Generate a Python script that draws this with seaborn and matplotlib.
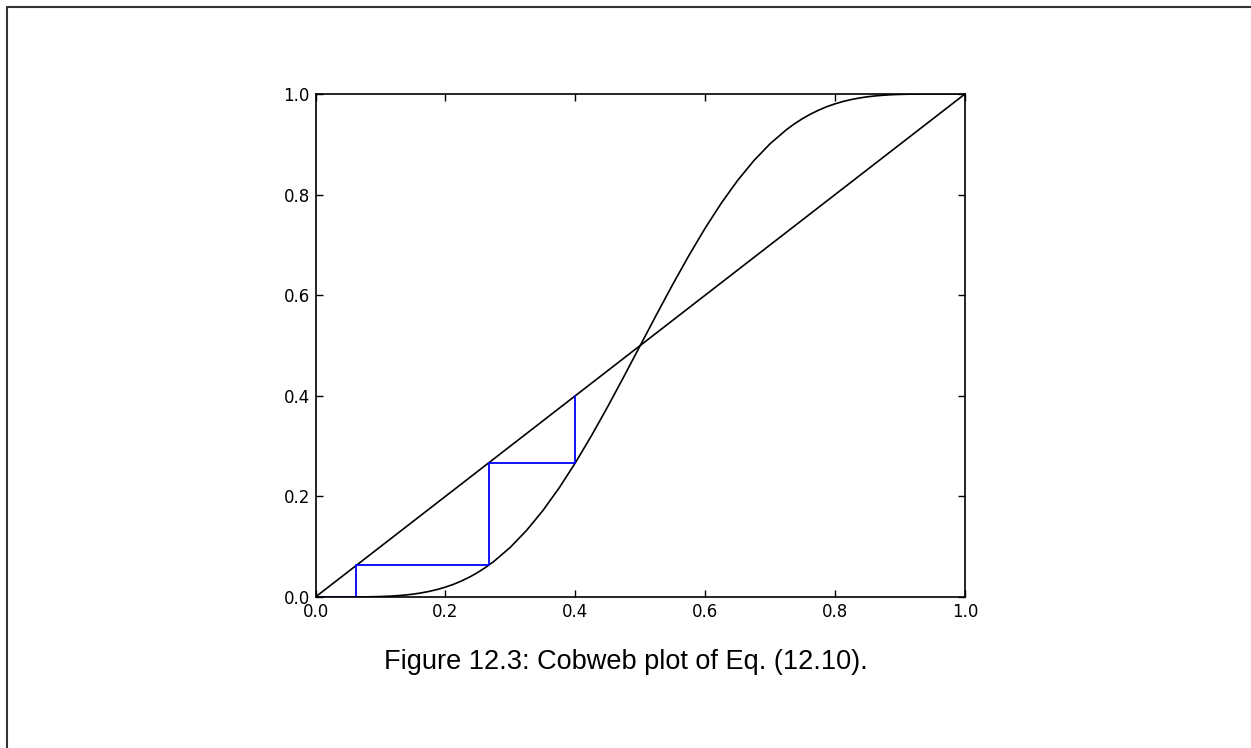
import pandas as pd
import matplotlib.pyplot as plt
import seaborn as sns
from matplotlib.lines import Line2D

# values
x_vals = [0.0, 0.025, 0.05, 0.075, 0.0875, 0.1, 0.1125, 0.125, 0.1375, 0.15,
          0.1625, 0.175, 0.1875, 0.2, 0.2125, 0.225, 0.2375, 0.25, 0.2625, 0.275,
          0.3, 0.325, 0.35, 0.375, 0.4, 0.425, 0.45, 0.475, 0.5,
          0.525, 0.55, 0.575, 0.6, 0.625, 0.65, 0.675, 0.7,
          0.725, 0.7375, 0.75, 0.7625, 0.775, 0.7875, 0.8, 0.8125, 0.825, 0.8375,
          0.85, 0.8625, 0.875, 0.8875, 0.9, 0.9125, 0.925, 0.95, 0.975, 1.0]
curve_vals = [0.0, 0.0, 0.0, 0.0002, 0.0005, 0.0009, 0.0015, 0.0025, 0.0038, 0.0056,
              0.0080, 0.0111, 0.0149, 0.0196, 0.0252, 0.0320, 0.0398, 0.0489, 0.0593, 0.0711,
              0.0988, 0.1324, 0.1717, 0.2166, 0.2666, 0.3209, 0.3786, 0.4387, 0.5,
              0.5613, 0.6214, 0.6791, 0.7334, 0.7834, 0.8283, 0.8676, 0.9012,
              0.9289, 0.9407, 0.9511, 0.9602, 0.9680, 0.9748, 0.9804, 0.9851, 0.9889, 0.9920,
              0.9944, 0.9962, 0.9975, 0.9985, 0.9991, 0.9995, 0.9998, 1.0, 1.0, 1.0]
diag_x = [0.0, 1.0]
diag_y = [0.0, 1.0]
cobweb_x = [0.4, 0.4, 0.2666, 0.2666, 0.0630, 0.0630, 0.0001, 0.0001, 0.0]
cobweb_y = [0.4, 0.2666, 0.2666, 0.0630, 0.0630, 0.0001, 0.0001, 0.0, 0.0]
x_ticks = [0.0, 0.2, 0.4, 0.6, 0.8, 1.0]
caption = "Figure 12.3: Cobweb plot of Eq. (12.10)."

sns.set_style("ticks")
plt.rcParams["font.family"] = ["DejaVu Sans"]

curve = pd.DataFrame({"x": x_vals, "y": curve_vals})
diag = pd.DataFrame({"x": diag_x, "y": diag_y})
cobweb = pd.DataFrame({"x": cobweb_x, "y": cobweb_y})

fig = plt.figure(figsize=(12.51, 7.48), dpi=100)
ax = fig.add_axes([0.2522, 0.2019, 0.5192, 0.6725])

line_kw = dict(x="x", y="y", sort=False, estimator=None, ax=ax)
sns.lineplot(data=curve, color="black", lw=1.2, **line_kw)
sns.lineplot(data=diag, color="black", lw=1.2, **line_kw)
sns.lineplot(data=cobweb, color="#0000ff", lw=1.3, **line_kw)

ax.set_xlim(0, 1)
ax.set_ylim(0, 1)
ax.set_xticks(x_ticks)
ax.set_yticks(x_ticks)
ax.set_xticklabels([f"{t:.1f}" for t in x_ticks])
ax.set_yticklabels([f"{t:.1f}" for t in x_ticks])
ax.set_xlabel("")
ax.set_ylabel("")
ax.tick_params(direction="in", length=5, width=1, labelsize=12, pad=4,
               top=True, right=True, colors="black")
for lab in ax.get_xticklabels() + ax.get_yticklabels():
    lab.set_family("DejaVu Sans")
for side in ax.spines.values():
    side.set_visible(True)
    side.set_linewidth(1.2)
    side.set_color("black")

# page frame (top and left edges)
fig.add_artist(Line2D([6.5 / 1251, 1.0], [1 - 6.5 / 748, 1 - 6.5 / 748],
                      transform=fig.transFigure, color="#333333", lw=1.5))
fig.add_artist(Line2D([6.5 / 1251, 6.5 / 1251], [0.0, 1 - 6.5 / 748],
                      transform=fig.transFigure, color="#333333", lw=1.5))

fig.text(0.5, 1 - 669 / 748, caption, ha="center", va="baseline",
         fontsize=19.5, color="black", family=["Liberation Sans", "DejaVu Sans"])

fig.savefig("out.png", dpi=100, facecolor="white")
